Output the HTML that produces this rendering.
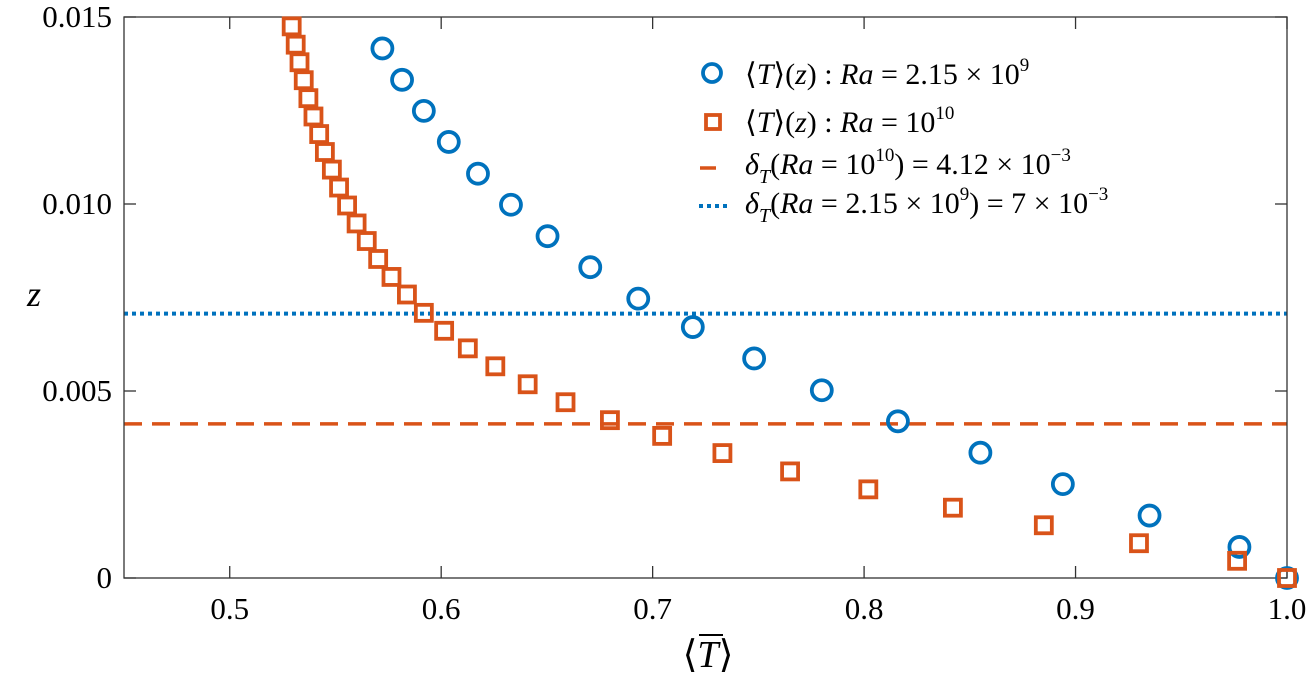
<!DOCTYPE html>
<html><head><meta charset="utf-8"><style>
html,body{margin:0;padding:0;background:#fff;}
svg{display:block;font-family:"Liberation Serif",serif;}
</style></head><body>
<svg id="chart" width="1307" height="697" viewBox="0 0 1307 697">
<g id="plot"></g>
</svg>
<script>
const blueT = [0.5722,0.5815,0.5918,0.6036,0.6174,0.633,0.6503,0.6705,0.6932,0.719,0.748,0.780,0.816,0.855,0.894,0.935,0.9775,1.0];
const blueZ = [0.01416,0.01332,0.01249,0.01166,0.01081,0.00998,0.00914,0.00831,0.00747,0.00671,0.00587,0.00502,0.00419,0.00335,0.00251,0.00167,0.00083,0];
const redT = [0.5293,0.5312,0.533,0.535,0.5372,0.5396,0.5423,0.545,0.5483,0.5517,0.5555,0.56,0.5648,0.5702,0.5765,0.5838,0.5918,0.6014,0.6126,0.6256,0.6409,0.6588,0.6798,0.7045,0.733,0.765,0.802,0.842,0.885,0.930,0.9764,1.0];
const redZ = [0.01475,0.01426,0.01379,0.01331,0.01283,0.01234,0.01187,0.01139,0.01092,0.01044,0.00996,0.00948,0.00901,0.00853,0.00805,0.00758,0.00709,0.00661,0.00614,0.00566,0.00518,0.00470,0.00422,0.00380,0.00334,0.00285,0.00237,0.00188,0.00141,0.00093,0.00046,0];
const deltaRed = 0.00412;
const deltaBlue = 0.00707;
const xTicks = [0.5,0.6,0.7,0.8,0.9,1.0];
const xTickLabels = ["0.5","0.6","0.7","0.8","0.9","1.0"];
const yTicks = [0,0.005,0.010,0.015];
const yTickLabels = ["0","0.005","0.010","0.015"];

const L=124,R=1287,T=17,B=578,XMIN=0.45,XMAX=1.0,YMIN=0,YMAX=0.015;
const sx=v=>L+(v-XMIN)/(XMAX-XMIN)*(R-L);
const sy=v=>B-(v-YMIN)/(YMAX-YMIN)*(B-T);
const NS="http://www.w3.org/2000/svg";
const g=document.getElementById('plot');
function mk(tag,attrs,parent){const e=document.createElementNS(NS,tag);for(const k in attrs)e.setAttribute(k,attrs[k]);(parent||g).appendChild(e);return e;}

let ln=mk('line',{x1:L,x2:R,y1:sy(deltaBlue),y2:sy(deltaBlue),stroke:'#0072BD','stroke-width':4,'stroke-dasharray':'4 4'});


ln=mk('line',{x1:L,x2:R,y1:sy(deltaRed),y2:sy(deltaRed),stroke:'#D95319','stroke-width':3.5,'stroke-dasharray':'18 10'});



const box=mk('rect',{x:L,y:T,width:R-L,height:B-T,fill:'none',stroke:'#333','stroke-width':1.3});



xTicks.forEach((v,i)=>{
  const x=sx(v);
  mk('line',{x1:x,x2:x,y1:B,y2:B-12,stroke:'#333','stroke-width':1.3});
  mk('line',{x1:x,x2:x,y1:T,y2:T+12,stroke:'#333','stroke-width':1.3});
  const t=mk('text',{x:x,y:B+41,'text-anchor':'middle','font-size':31,fill:'#000'});
  t.textContent=xTickLabels[i];
  
  
});
yTicks.forEach((v,i)=>{
  const y=sy(v);
  mk('line',{x1:L,x2:L+12,y1:y,y2:y,stroke:'#333','stroke-width':1.3});
  mk('line',{x1:R,x2:R-12,y1:y,y2:y,stroke:'#333','stroke-width':1.3});
  const t=mk('text',{x:L-12,y:y+10,'text-anchor':'end','font-size':31,fill:'#000'});
  t.textContent=yTickLabels[i];
  
  
});

blueT.forEach((v,i)=>{
  const c=mk('circle',{cx:sx(v),cy:sy(blueZ[i]),r:10,fill:'none',stroke:'#0072BD','stroke-width':3.8});
  
  
});
redT.forEach((v,i)=>{
  const r=mk('rect',{x:sx(v)-8,y:sy(redZ[i])-8,width:16,height:16,fill:'none',stroke:'#D95319','stroke-width':3.8});
  
  
});
</script>
<svg width="1307" height="697" style="position:absolute;left:0;top:0;font-family:'Liberation Serif',serif">
  <text x="34" y="306" font-size="36" font-style="italic" text-anchor="middle">z</text>
  <g>
    <text x="708" y="667" font-size="38" text-anchor="middle">⟨<tspan font-style="italic">T</tspan>⟩</text>
    <line x1="699" y1="635" x2="723" y2="635" stroke="#000" stroke-width="2"/>
  </g>
  <g font-size="30">
    <g>
      <circle cx="712" cy="73" r="9" fill="none" stroke="#0072BD" stroke-width="3.8"/>
      <text x="745" y="84">⟨<tspan font-style="italic">T</tspan>⟩(<tspan font-style="italic">z</tspan>) : <tspan font-style="italic">Ra</tspan> = 2.15 × 10<tspan font-size="19" dy="-13">9</tspan></text>
    </g>
    <g>
      <rect x="706" y="115" width="14" height="14" fill="none" stroke="#D95319" stroke-width="3.8"/>
      <text x="745" y="132">⟨<tspan font-style="italic">T</tspan>⟩(<tspan font-style="italic">z</tspan>) : <tspan font-style="italic">Ra</tspan> = 10<tspan font-size="19" dy="-13">10</tspan></text>
    </g>
    <g>
      <line x1="700" y1="168" x2="716" y2="168" stroke="#D95319" stroke-width="3.5"/>
      <text x="745" y="174"><tspan font-style="italic">δ</tspan><tspan font-style="italic" font-size="20" dy="9">T</tspan><tspan dy="-9">(</tspan><tspan font-style="italic">Ra</tspan> = 10<tspan font-size="19" dy="-13">10</tspan><tspan dy="13">) = 4.12 × 10</tspan><tspan font-size="19" dy="-13">−3</tspan></text>
    </g>
    <g>
      <line x1="699" y1="206" x2="728" y2="206" stroke="#0072BD" stroke-width="4" stroke-dasharray="4 4"/>
      <text x="745" y="213"><tspan font-style="italic">δ</tspan><tspan font-style="italic" font-size="20" dy="9">T</tspan><tspan dy="-9">(</tspan><tspan font-style="italic">Ra</tspan> = 2.15 × 10<tspan font-size="19" dy="-13">9</tspan><tspan dy="13">) = 7 × 10</tspan><tspan font-size="19" dy="-13">−3</tspan></text>
    </g>
  </g>
</svg>
</body></html>
